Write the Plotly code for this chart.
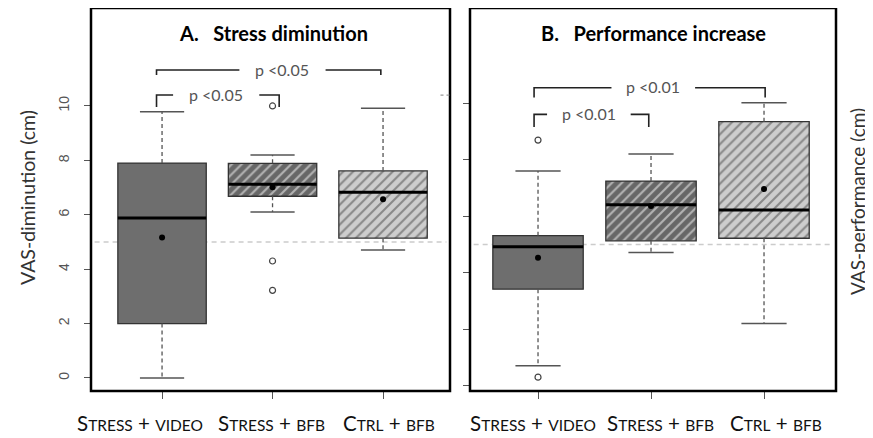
import plotly.graph_objects as go

# ---------------- data ----------------
groups = [1, 2, 3]
cat_labels = [
    "S<span style='font-size:15.5px'>TRESS</span> + <span style='font-size:15.5px'>VIDEO</span>",
    "S<span style='font-size:15.5px'>TRESS</span> + <span style='font-size:15.5px'>BFB</span>",
    "C<span style='font-size:15.5px'>TRL</span> + <span style='font-size:15.5px'>BFB</span>",
]

# Panel A: stress diminution
a_q1 = [2.0, 6.68, 5.14]
a_med = [5.88, 7.12, 6.83]
a_q3 = [7.9, 7.89, 7.61]
a_lo = [0.0, 6.1, 4.7]
a_hi = [9.79, 8.2, 9.91]
a_mean = [5.16, 7.01, 6.57]
a_out_x = [2, 2, 2]
a_out_y = [10.0, 4.3, 3.22]

# Panel B: performance increase
b_q1 = [3.42, 5.13, 5.22]
b_med = [4.92, 6.4, 6.22]
b_q3 = [5.31, 7.24, 9.34]
b_lo = [0.71, 4.72, 2.21]
b_hi = [7.6, 8.2, 10.01]
b_mean = [4.53, 6.36, 6.96]
b_out_x = [1, 1]
b_out_y = [8.69, 0.31]

# significance brackets: x0, x1, y, drop_left, drop_right, label_x, gap_half, label
a_brackets = [
    (0.95, 2.98, 11.32, 11.14, 11.14, 2.09, 0.39, "p <0.05"),
    (0.95, 2.06, 10.4, 9.96, 9.96, 1.49, 0.39, "p <0.05"),
]
b_brackets = [
    (0.965, 3.01, 10.54, 10.2, 10.2, 2.02, 0.37, "p <0.01"),
    (0.965, 1.98, 9.6, 9.15, 9.15, 1.45, 0.37, "p <0.01"),
]

y_ticks = [0, 2, 4, 6, 8, 10]
ref_level = 5

# layout: where the category labels sit (data units along x)
a_label_pos = [0.80, 1.995, 3.05]
b_label_pos = [0.956, 2.08, 3.106]

box_fill = ["#6e6e6e", "#676767", "#cdcdcd"]
box_fg = ["#6e6e6e", "#2a2a2a", "#666666"]
box_shape = ["", "/", "/"]

W, H = 873, 438
OFF = 8  # page body margin


def px(xp):
    return min(1.0, max(0.0, (xp - OFF) / W))


def py(yp):
    return min(1.0, max(0.0, 1 - (yp - OFF) / H))


fig = go.Figure()
WHISK = "#555555"


def add_panel(xa, ya, q1, med, q3, lo, hi, mean, ox, oy, brackets, label_pos):
    xr = dict(xaxis=xa, yaxis=ya)
    fig.add_trace(go.Bar(
        x=groups, y=[b - a for a, b in zip(q1, q3)], base=q1, width=0.8,
        marker=dict(color=box_fill, line=dict(color="#333333", width=1.3),
                    pattern=dict(shape=box_shape, fgcolor=box_fg,
                                 size=7, solidity=0.3, fillmode="overlay")),
        showlegend=False, hoverinfo="skip", **xr))
    for i, g in enumerate(groups):
        fig.add_trace(go.Scatter(x=[g, g, None, g, g], y=[q3[i], hi[i], None, q1[i], lo[i]],
                                 mode="lines", line=dict(color=WHISK, width=1.3, dash="4px,3px"),
                                 showlegend=False, hoverinfo="skip", **xr))
        fig.add_trace(go.Scatter(x=[g - 0.2, g + 0.2, None, g - 0.2, g + 0.2],
                                 y=[hi[i], hi[i], None, lo[i], lo[i]],
                                 mode="lines", line=dict(color=WHISK, width=1.5),
                                 showlegend=False, hoverinfo="skip", **xr))
        fig.add_trace(go.Scatter(x=[g - 0.4, g + 0.4], y=[med[i], med[i]],
                                 mode="lines", line=dict(color="black", width=3),
                                 showlegend=False, hoverinfo="skip", **xr))
    fig.add_trace(go.Scatter(x=groups, y=mean, mode="markers",
                             marker=dict(color="black", size=6),
                             showlegend=False, hoverinfo="skip", **xr))
    fig.add_trace(go.Scatter(x=ox, y=oy, mode="markers",
                             marker=dict(color="white", size=6, line=dict(color="#444444", width=1.2)),
                             showlegend=False, hoverinfo="skip", **xr))
    for (x0, x1, y, dl, dr, lx, gh, lab) in brackets:
        fig.add_trace(go.Scatter(x=[x0, x0, lx - gh, None, lx + gh, x1, x1],
                                 y=[dl, y, y, None, y, y, dr],
                                 mode="lines", line=dict(color="#222222", width=1.6),
                                 showlegend=False, hoverinfo="skip", **xr))
        fig.add_annotation(x=lx, y=y, xref=xa, yref=ya, text=lab, showarrow=False,
                           xanchor="center", yanchor="middle",
                           font=dict(family="Lato", size=16, color="#555555"), yshift=1)
    fig.add_shape(type="line", xref=xa + " domain", yref=ya, x0=0.01, x1=0.99,
                  y0=ref_level, y1=ref_level,
                  line=dict(color="#cccccc", width=1.5, dash="5px,4px"), layer="below")
    # frame
    fig.add_shape(type="rect", xref=xa + " domain", yref=ya + " domain", x0=0, x1=1, y0=0, y1=1,
                  line=dict(color="black", width=2.5), fillcolor="rgba(0,0,0,0)", layer="above")
    # category labels
    for lp, lab in zip(label_pos, cat_labels):
        fig.add_annotation(x=lp, y=py(423), xref=xa, yref="paper", text=lab, showarrow=False,
                           xanchor="center", yanchor="middle",
                           font=dict(family="Lato", size=20.5, color="#111111"))


add_panel("x", "y", a_q1, a_med, a_q3, a_lo, a_hi, a_mean, a_out_x, a_out_y, a_brackets, a_label_pos)
add_panel("x2", "y2", b_q1, b_med, b_q3, b_lo, b_hi, b_mean, b_out_x, b_out_y, b_brackets, b_label_pos)

# faint dotted remnant near the right edge of panel A
fig.add_shape(type="line", xref="x", yref="y", x0=3.52, x1=3.6, y0=10.4, y1=10.4,
              line=dict(color="#999999", width=1.3, dash="dot"))

axis_common = dict(showline=False, showgrid=False, zeroline=False, automargin=False)
xcommon = dict(axis_common, tickmode="array", tickvals=groups, showticklabels=False,
               ticks="outside", ticklen=7, tickcolor="#555555", tickwidth=1.3)
ycommon = dict(axis_common, tickmode="array", tickvals=y_ticks, ticks="outside",
               ticklen=6, tickcolor="#555555", tickwidth=1.3)

fig.update_layout(
    width=W, height=H, margin=dict(l=0, r=0, t=0, b=0),
    paper_bgcolor="white", plot_bgcolor="white", barmode="overlay",
    xaxis=dict(xcommon, domain=[px(91), px(450)], range=[0.357, 3.606]),
    yaxis=dict(ycommon, domain=[py(391), py(8)], range=[-0.48, 13.6],
               tickangle=-90, tickfont=dict(family="Liberation Sans", size=14, color="#555555"),
               ticktext=[str(v) for v in y_ticks], ticklabelstandoff=9),
    xaxis2=dict(xcommon, anchor="y2", domain=[px(470), px(836)], range=[0.398, 3.637]),
    yaxis2=dict(ycommon, anchor="x2", domain=[py(391), py(8)], range=[-0.18, 13.36],
                showticklabels=False),
)

fig.add_annotation(x=px(273), y=py(33), xref="paper", yref="paper",
                   text="<b>A.&nbsp;&nbsp;&nbsp;Stress diminution</b>", showarrow=False,
                   xanchor="center", yanchor="middle",
                   font=dict(family="Lato", size=20, color="black"))
fig.add_annotation(x=px(653), y=py(33), xref="paper", yref="paper",
                   text="<b>B.&nbsp;&nbsp;&nbsp;Performance increase</b>", showarrow=False,
                   xanchor="center", yanchor="middle",
                   font=dict(family="Lato", size=20, color="black"))
fig.add_annotation(x=px(27), y=py(198), xref="paper", yref="paper",
                   text="VAS-diminution (cm)", textangle=-90, showarrow=False,
                   xanchor="center", yanchor="middle",
                   font=dict(family="Lato", size=19.5, color="#333333"))
fig.add_annotation(x=px(858), y=py(202), xref="paper", yref="paper",
                   text="VAS-performance (cm)", textangle=-90, showarrow=False,
                   xanchor="center", yanchor="middle",
                   font=dict(family="Lato", size=19, color="#333333"))

fig.write_html("out.html")
